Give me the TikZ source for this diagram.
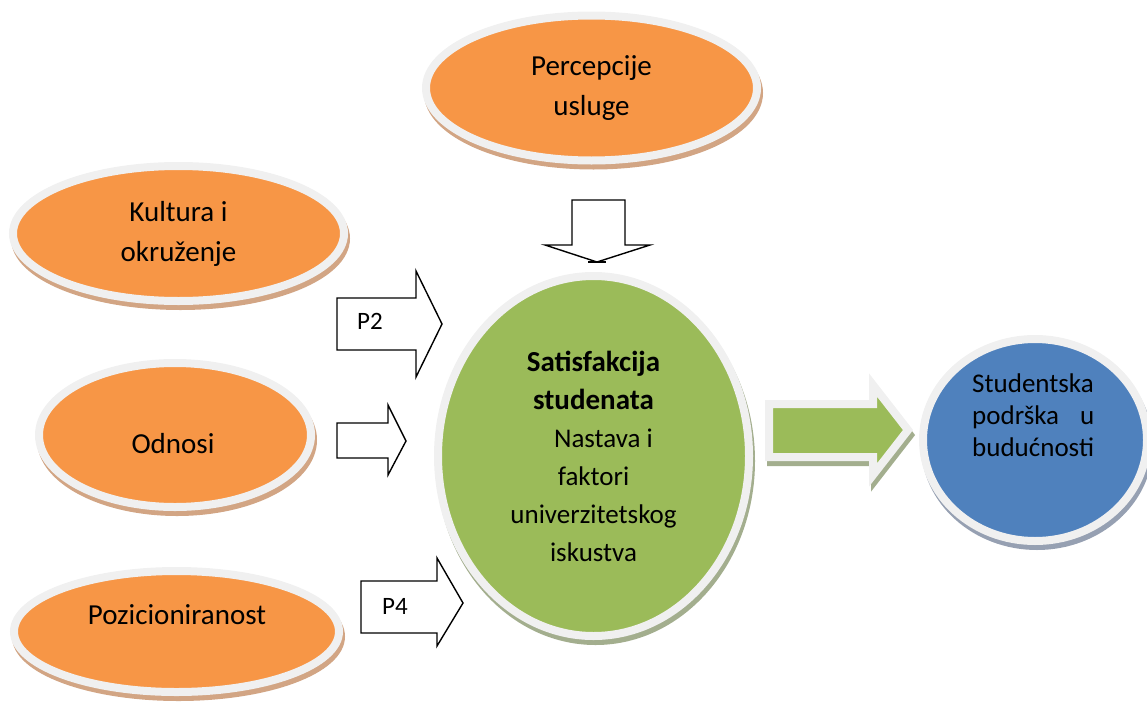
\documentclass[tikz,border=0pt]{standalone}
\usepackage{fontspec}
\setmainfont{Carlito}
\usetikzlibrary{shapes.geometric}
\definecolor{ofill}{HTML}{F79646}
\definecolor{gfill}{HTML}{9BBB59}
\definecolor{bfill}{HTML}{4F81BD}
\definecolor{rim}{HTML}{F0F0F0}
\definecolor{oshade}{HTML}{D2A584}
\definecolor{gshade}{HTML}{A3AE8E}
\definecolor{bshade}{HTML}{96A0B2}
\tikzset{
  castshadow/.style={preaction={fill=#1, draw=#1, line width=8pt,
      transform canvas={shift={(2pt,-5pt)}}}},
  oval/.style={ellipse, fill=#1, draw=rim, line width=8pt, inner sep=0pt},
  blockarrow/.style={draw=black, fill=white, line width=1.4pt},
  otext/.style={font=\fontsize{29}{40}\selectfont, align=center},
  gtext/.style={font=\fontsize{27}{38}\selectfont, align=center},
  ptext/.style={font=\fontsize{25}{28}\selectfont, inner sep=0pt},
}
\begin{document}
\begin{tikzpicture}[x=1pt, y=-1pt]
    \useasboundingbox (0,0) rectangle (1147,704);
    % factors
    \node[oval=ofill, castshadow=oshade, otext, minimum width=331pt, minimum height=145pt] (percepcije) at (591.5, 88) {Percepcije\\usluge};
    \node[oval=ofill, castshadow=oshade, otext, minimum width=331pt, minimum height=135pt] (kultura) at (178.5, 233.5) {Kultura i\\okruženje};
    \node[oval=ofill, castshadow=oshade, minimum width=272pt, minimum height=144pt] (odnosi) at (175, 435) {};
    \node[otext] (odnosiTxt) at (173, 444) {Odnosi};
    \node[oval=ofill, castshadow=oshade, minimum width=325pt, minimum height=121pt] (pozicija) at (176.5, 631.5) {};
    \node[otext] (pozicijaTxt) at (177, 615) {Pozicioniranost};
    % satisfaction
    \node[oval=gfill, castshadow=gshade, gtext, minimum width=311pt, minimum height=360pt] (satisfakcija) at (593.5, 456)
        {{\bfseries\fontsize{29}{38}\selectfont Satisfakcija}\\
         {\bfseries\fontsize{29}{38}\selectfont studenata}\\
         \hspace*{20pt}Nastava i\\faktori\\univerzitetskog\\iskustva};
    % support
    \node[oval=bfill, castshadow=bshade, minimum width=224pt, minimum height=202pt] (podrska) at (1035, 440) {};
    \node[gtext, font=\fontsize{27}{32}\selectfont, align=left, text width=122pt, inner sep=0pt, anchor=north west] (podrskaTxt) at (972, 374)
        {Studentska\\podrška\hfill u\\budućnosti};
    % block arrows
    \draw[blockarrow] (572,200) -- (625,200) -- (625,245) -- (650,245) -- (597,262) -- (545,245) -- (572,245) -- cycle;
    \draw[line width=2pt] (588,262) -- (606,262);
    \draw[blockarrow] (337,298) -- (416,298) -- (416,271) -- (442,324) -- (416,377) -- (416,350) -- (337,350) -- cycle;
    \node[ptext] (p2) at (370, 321) {P2};
    \draw[blockarrow] (337,423) -- (388,423) -- (388,405) -- (406,441) -- (388,475) -- (388,458) -- (337,458) -- cycle;
    \draw[blockarrow] (361,581) -- (437,581) -- (437,558) -- (463,603) -- (437,646) -- (437,633) -- (361,633) -- cycle;
    \node[ptext] (p4) at (395, 606) {P4};
    \draw[fill=gfill, draw=rim, line width=8pt, castshadow=gshade] (769,404) -- (873,404) -- (873,385) -- (908,430) -- (873,475) -- (873,457) -- (769,457) -- cycle;
\end{tikzpicture}
\end{document}
